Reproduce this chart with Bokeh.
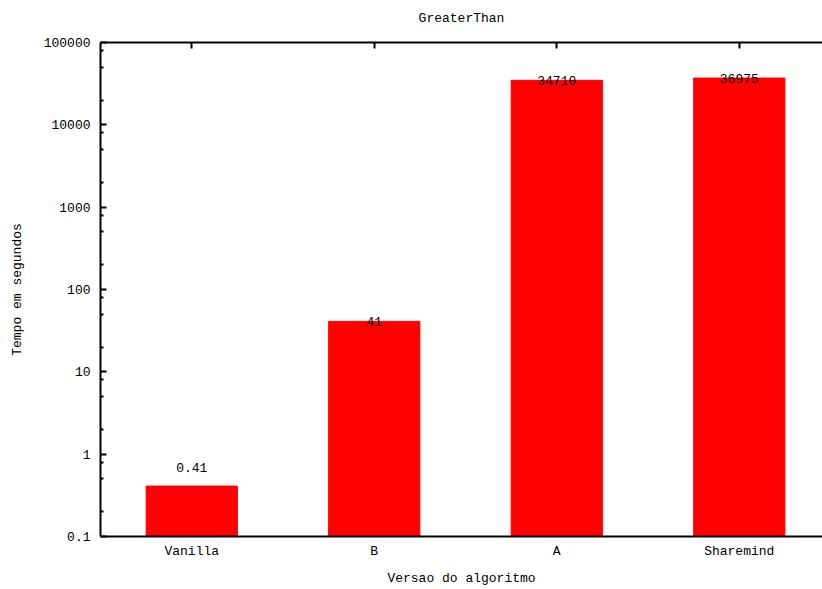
from bokeh.plotting import figure
from bokeh.models import Range1d, FixedTicker, LinearAxis, ColumnDataSource
from bokeh.core.properties import value
from bokeh.embed import file_html
from bokeh.resources import INLINE

# ---- data ----
title_text = "GreaterThan"
categories = ["Vanilla", "B", "A", "Sharemind"]
times = [0.41, 41, 34710, 36975]
time_labels = ["0.41", "41", "34710", "36975"]
y_major = [0.1, 1, 10, 100, 1000, 10000, 100000]
y_major_labels = ["0.1", "1", "10", "100", "1000", "10000", "100000"]
label_offset = 0.27  # label drawn at value + offset (data units)

FONT = "Liberation Mono"
FS = "13px"

xs = list(range(len(categories)))
src = ColumnDataSource(dict(
    x=xs,
    top=times,
    bottom=[0.1] * len(times),
    ly=[t + label_offset for t in times],
    txt=time_labels,
))

p = figure(width=822, height=589, output_backend="svg", toolbar_location=None,
           y_axis_type="log",
           x_range=Range1d(-0.5, 3.456), y_range=Range1d(0.1, 100000),
           min_border_left=100, min_border_right=0, min_border_top=42,
           min_border_bottom=53, tools="")

p.title.text = title_text
p.title.align = "center"
p.title.vertical_align = "bottom"
p.title.text_font = FONT
p.title.text_font_size = FS
p.title.text_font_style = "normal"
p.title.text_color = "black"
p.title.standoff = 0
p.title.padding = dict(left=0, right=0, top=0, bottom=17)
p.title.offset = 4

p.outline_line_color = None
p.xgrid.visible = False
p.ygrid.visible = False

p.vbar(x="x", top="top", bottom="bottom", width=0.5, source=src,
       fill_color="#ff0000", line_color="#ff0000")

p.text(x="x", y="ly", text="txt", source=src, text_align="center",
       text_baseline="middle", text_font=value(FONT), text_font_size=FS,
       text_color="black")

# x axis (bottom)
xa = p.xaxis[0]
xa.ticker = FixedTicker(ticks=xs)
xa.major_label_overrides = {i: c for i, c in zip(xs, categories)}
xa.major_tick_in = 0
xa.major_tick_out = 0
xa.minor_tick_in = 0
xa.minor_tick_out = 0
xa.axis_line_width = 2
xa.axis_line_color = "black"
xa.major_label_standoff = 7
xa.major_label_text_font = FONT
xa.major_label_text_font_size = FS
xa.major_label_text_color = "black"
xa.axis_label = "Versao do algoritmo"
xa.axis_label_text_font = FONT
xa.axis_label_text_font_size = FS
xa.axis_label_text_font_style = "normal"
xa.axis_label_text_color = "black"
xa.axis_label_standoff = 9

# top axis (mirror ticks)
ta = LinearAxis(ticker=FixedTicker(ticks=xs))
ta.major_label_overrides = {i: "" for i in xs}
ta.major_label_standoff = 0
ta.major_tick_in = 6
ta.major_tick_out = 0
ta.minor_tick_in = 0
ta.minor_tick_out = 0
ta.axis_line_width = 2
ta.axis_line_color = "black"
ta.major_tick_line_width = 2
p.add_layout(ta, "above")

# y axis
ya = p.yaxis[0]
minor = [m * d for d in y_major[:-1] for m in (2, 5, 8)]
ya.ticker = FixedTicker(ticks=y_major, minor_ticks=minor)
ya.major_label_overrides = {v: l for v, l in zip(y_major, y_major_labels)}
ya.major_tick_in = 6
ya.major_tick_out = 0
ya.minor_tick_in = 3
ya.minor_tick_out = 0
ya.major_tick_line_width = 2
ya.minor_tick_line_width = 2
ya.axis_line_width = 2
ya.axis_line_color = "black"
ya.major_label_standoff = 10
ya.major_label_text_font = FONT
ya.major_label_text_font_size = FS
ya.major_label_text_color = "black"
ya.axis_label = "Tempo em segundos"
ya.axis_label_text_font = FONT
ya.axis_label_text_font_size = FS
ya.axis_label_text_font_style = "normal"
ya.axis_label_text_color = "black"
ya.axis_label_standoff = 16

open("out.html", "w").write(file_html(p, INLINE))
